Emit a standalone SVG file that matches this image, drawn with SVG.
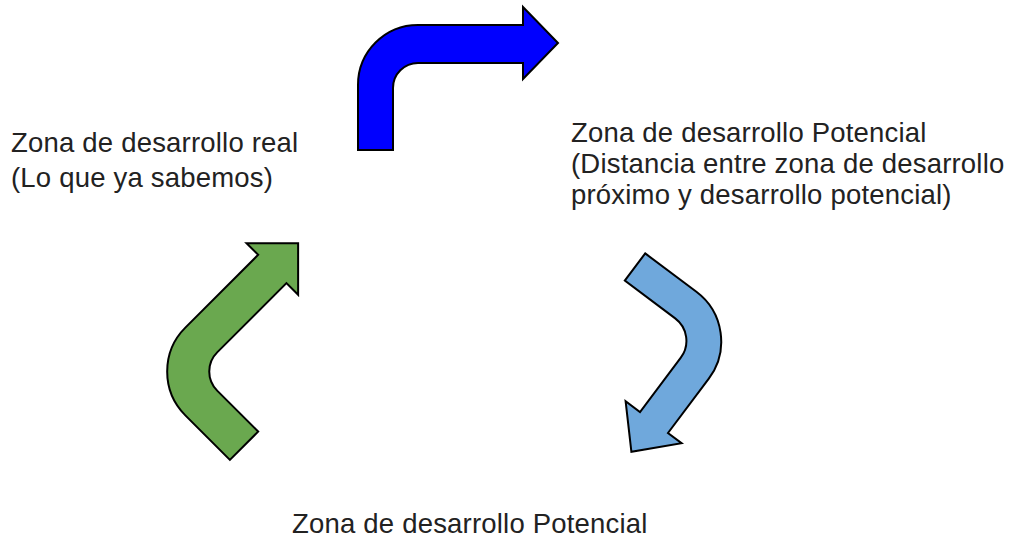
<svg xmlns="http://www.w3.org/2000/svg" width="1009" height="540" viewBox="0 0 1009 540">
  <style>
    .arrow { stroke: #000; stroke-width: 2; stroke-linejoin: miter; }
    .label { font-family: "Liberation Sans", Arial, sans-serif; font-size: 27.5px; letter-spacing: 0.2px; fill: #222; }
  </style>
  <rect width="1009" height="540" fill="#fff"/>
  <g id="connectors">
    <path id="arrow-blue" class="arrow" fill="#0000ff"
      d="M358,150 L358,85 A60,60 0 0 1 418,25 L523,25 L523,7 L558,43 L523,79 L523,63 L418,63 A25,25 0 0 0 393,88 L393,150 Z"/>
    <path id="arrow-lightblue" class="arrow" fill="#6fa8dc" transform="translate(746,329) rotate(126.87)"
      d="M0,126 L0,62 A62,62 0 0 1 62,0 L130,0 L130,-17 L167,18 L130,53 L130,35 L62,35 A28,28 0 0 0 34,63 L34,126 Z"/>
    <path id="arrow-green" class="arrow" fill="#6aa84f" transform="translate(141.5,371.5) rotate(-45)"
      d="M0,125 L0,62 A62,62 0 0 1 62,0 L165,0 L165,-16.5 L201.5,20 L165,56.5 L165,40 L67,40 A27,27 0 0 0 40,67 L40,125 Z"/>
  </g>
  <g id="node-real">
    <text class="label" x="11" y="152">Zona de desarrollo real</text>
    <text class="label" x="11" y="187">(Lo que ya sabemos)</text>
  </g>
  <g id="node-potencial-top">
    <text class="label" x="571" y="142">Zona de desarrollo Potencial</text>
    <text class="label" x="571" y="173">(Distancia entre zona de desarrollo</text>
    <text class="label" x="571" y="204">próximo y desarrollo potencial)</text>
  </g>
  <g id="node-potencial-bottom">
    <text class="label" x="292" y="533">Zona de desarrollo Potencial</text>
  </g>
</svg>
